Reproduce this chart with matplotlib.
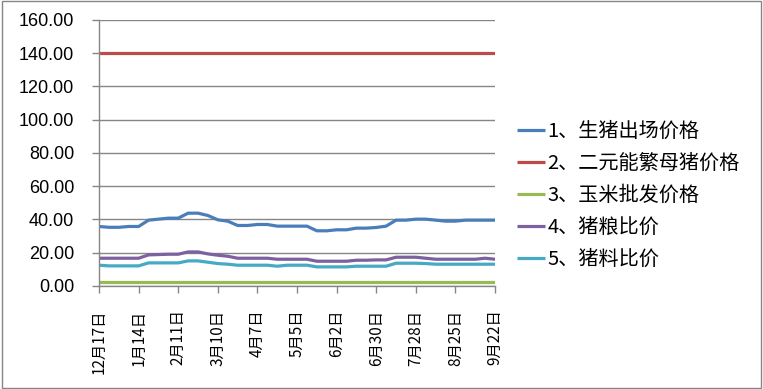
import matplotlib
matplotlib.use('Agg')
import matplotlib.pyplot as plt
from matplotlib.patches import Rectangle

# weekly data, 12月17日 .. 9月22日 (41 weeks)
tick_labels = ['12月17日', '1月14日', '2月11日', '3月10日', '4月7日', '5月5日',
               '6月2日', '6月30日', '7月28日', '8月25日', '9月22日']

hog_price = [35.8, 35.3, 35.3, 35.8, 35.8, 39.6, 40.2, 40.8, 40.8, 43.8,
             43.8, 42.4, 39.8, 39.0, 36.4, 36.4, 37.0, 37.0, 36.0, 36.0,
             36.0, 36.0, 33.2, 33.2, 33.8, 33.8, 34.8, 34.8, 35.2, 36.0,
             39.6, 39.6, 40.2, 40.2, 39.6, 39.0, 39.0, 39.6, 39.6, 39.6, 39.6]
sow_price = [140.0] * 41
corn_price = [2.3] * 41
hog_grain = [16.7, 16.7, 16.7, 16.7, 16.7, 18.7, 18.9, 19.1, 19.1, 20.5,
             20.5, 19.3, 18.5, 17.9, 16.7, 16.7, 16.7, 16.7, 16.1, 16.1,
             16.1, 16.1, 14.9, 14.9, 14.9, 14.9, 15.5, 15.5, 15.7, 15.7,
             17.3, 17.3, 17.3, 16.7, 16.1, 16.1, 16.1, 16.1, 16.1, 16.7, 16.1]
hog_feed = [12.5, 12.1, 12.1, 12.1, 12.1, 13.9, 13.9, 13.9, 13.9, 15.1,
            15.1, 14.3, 13.5, 13.1, 12.5, 12.5, 12.5, 12.5, 11.9, 12.5,
            12.5, 12.5, 11.5, 11.5, 11.5, 11.5, 11.9, 11.9, 11.9, 11.9,
            13.7, 13.7, 13.7, 13.5, 13.1, 13.1, 13.1, 13.1, 13.1, 13.1, 13.1]

series = [
    ('1、生猪出场价格', hog_price, '#4A7EBB'),
    ('2、二元能繁母猪价格', sow_price, '#BE4B48'),
    ('3、玉米批发价格', corn_price, '#98B954'),
    ('4、猪粮比价', hog_grain, '#7D60A0'),
    ('5、猪料比价', hog_feed, '#46AAC5'),
]

cjk = ['Noto Sans CJK SC', 'DejaVu Sans']
grey = '#868686'

fig = plt.figure(figsize=(7.63, 3.89), dpi=100)
fig.patches.append(Rectangle((0.002, 0.003), 0.995, 0.994, transform=fig.transFigure,
                             fill=False, edgecolor=grey, lw=1))
ax = fig.add_axes([0.1298, 0.2648, 0.519, 0.6838])

x = list(range(len(hog_price)))
for label, vals, color in series:
    ax.plot(x, vals, color=color, lw=2.3, label=label, solid_capstyle='butt')

ax.set_xlim(0, 40)
ax.set_ylim(0, 160)
ax.set_yticks(range(0, 161, 20))
ax.set_yticklabels(['%.2f' % v for v in range(0, 161, 20)],
                   fontfamily='Liberation Sans', fontsize=13)
ax.set_xticks(range(0, 41, 4))
ax.set_xticklabels(tick_labels, rotation=90, fontfamily=cjk, fontsize=11)

ax.grid(axis='y', color=grey, lw=1)
ax.set_axisbelow(True)
for side in ['top', 'right']:
    ax.spines[side].set_visible(False)
for side in ['left', 'bottom']:
    ax.spines[side].set_color(grey)
    ax.spines[side].set_linewidth(1)
ax.tick_params(axis='y', direction='out', length=5, width=1, color=grey, pad=13)
ax.tick_params(axis='x', direction='out', length=5, width=1, color=grey, pad=12)

ax.legend(loc='center left', bbox_to_anchor=(1.035, 0.34), frameon=False,
          prop={'family': cjk, 'size': 14.5}, handlelength=1.4,
          handletextpad=0.1, labelspacing=0.55, borderaxespad=0)

fig.savefig('out.png', dpi=100)
